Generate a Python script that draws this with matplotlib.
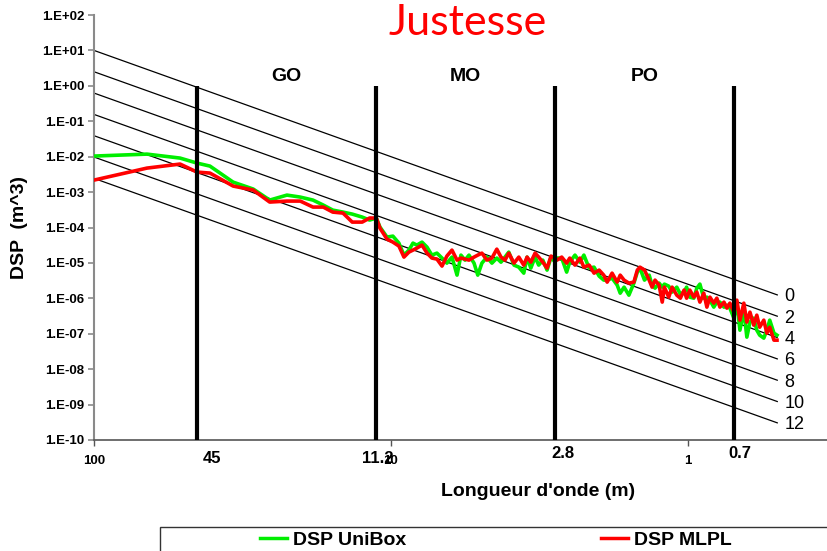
import matplotlib
matplotlib.use("Agg")
import matplotlib.pyplot as plt
from matplotlib.ticker import FixedLocator, NullLocator, FixedFormatter
from matplotlib.patches import Rectangle

plt.rcParams['font.family'] = ['Liberation Sans', 'DejaVu Sans']

# ---------------- data ----------------
# wavelength (m) and DSP (m^3)
lam_go = [100, 66.3, 51.3, 45.0, 40.7, 34.0, 29.1, 25.6, 22.4, 20.2, 18.3, 16.9,
          15.7, 14.5, 13.5, 12.5, 11.8, 11.2]
unibox_go = [1.04e-2, 1.18e-2, 9.12e-3, 6.59e-3, 5.42e-3, 1.91e-3, 1.22e-3, 5.94e-4,
             8.22e-4, 7.22e-4, 5.94e-4, 4.30e-4, 3.10e-4, 2.72e-4, 2.39e-4, 1.97e-4,
             1.62e-4, 1.85e-4]
mlpl_go = [2.18e-3, 4.76e-3, 6.18e-3, 3.67e-3, 3.44e-3, 1.48e-3, 1.14e-3, 5.22e-4,
           5.57e-4, 5.57e-4, 3.77e-4, 3.77e-4, 2.72e-4, 2.55e-4, 1.42e-4, 1.42e-4,
           1.85e-4, 1.85e-4]

lam_mo = [10.89, 10.31, 9.85, 9.40, 9.04, 8.70, 8.43, 8.18, 7.86, 7.56, 7.28, 7.00,
          6.73, 6.48, 6.23, 5.99, 5.81, 5.63, 5.46, 5.25, 5.10, 4.94, 4.75, 4.57,
          4.40, 4.26, 4.13, 4.01, 3.85, 3.71, 3.57, 3.48, 3.38, 3.27, 3.18, 3.08,
          2.98, 2.89, 2.80]
unibox_mo = [1.03e-4, 5.36e-5, 5.71e-5, 3.62e-5, 1.66e-5, 2.30e-5, 3.62e-5, 3.18e-5,
             3.87e-5, 2.79e-5, 1.66e-5, 1.89e-5, 1.37e-5, 9.86e-6, 1.46e-5, 4.52e-6,
             1.66e-5, 1.20e-5, 1.66e-5, 9.86e-6, 4.52e-6, 9.86e-6, 1.46e-5, 9.86e-6,
             1.37e-5, 1.05e-5, 1.46e-5, 2.02e-5, 8.67e-6, 7.60e-6, 5.15e-6, 1.46e-5,
             7.13e-6, 1.46e-5, 8.67e-6, 1.20e-5, 6.27e-6, 1.46e-5, 1.05e-5]
mlpl_mo = [9.62e-5, 4.70e-5, 3.87e-5, 2.99e-5, 1.46e-5, 2.02e-5, 2.30e-5, 2.62e-5,
           3.18e-5, 1.89e-5, 1.37e-5, 1.28e-5, 8.13e-6, 1.56e-5, 2.30e-5, 1.20e-5,
           1.37e-5, 1.28e-5, 1.20e-5, 1.46e-5, 1.66e-5, 1.89e-5, 1.20e-5, 1.37e-5,
           2.45e-5, 1.46e-5, 1.20e-5, 1.89e-5, 9.86e-6, 1.46e-5, 8.67e-6, 1.46e-5,
           1.05e-5, 1.89e-5, 1.46e-5, 1.05e-5, 7.13e-6, 1.56e-5, 1.37e-5]

lam_po = [2.76, 2.66, 2.56, 2.50, 2.40, 2.31, 2.24, 2.15, 2.07, 1.99,
          1.92, 1.87, 1.80, 1.73, 1.69, 1.64, 1.58, 1.52, 1.48, 1.45,
          1.40, 1.35, 1.32, 1.29, 1.25, 1.22, 1.20, 1.16, 1.13, 1.09,
          1.06, 1.03, 1.01, 0.985, 0.955, 0.933, 0.911, 0.884, 0.863, 0.843,
          0.818, 0.799, 0.780, 0.756, 0.739, 0.722, 0.700, 0.684, 0.668, 0.648,
          0.633, 0.618, 0.600, 0.586, 0.573, 0.555, 0.542, 0.530, 0.513, 0.501]
unibox_po = [1.37e-5, 1.37e-5, 5.50e-6, 1.05e-5, 1.66e-5, 1.05e-5, 1.66e-5, 7.13e-6, 7.60e-6, 4.24e-6,
             3.27e-6, 3.27e-6, 3.72e-6, 2.36e-6, 1.40e-6, 2.07e-6, 1.23e-6, 2.69e-6, 5.50e-6, 7.13e-6,
             3.27e-6, 4.52e-6, 2.36e-6, 1.94e-6, 2.69e-6, 2.07e-6, 2.52e-6, 2.21e-6, 1.50e-6, 2.07e-6,
             1.32e-6, 1.50e-6, 2.07e-6, 1.08e-6, 1.01e-6, 1.94e-6, 2.52e-6, 1.01e-6, 1.08e-6, 8.89e-7,
             5.64e-7, 7.82e-7, 7.82e-7, 5.64e-7, 6.43e-7, 5.28e-7, 2.76e-7, 7.82e-7, 1.26e-7, 4.65e-7,
             8.02e-8, 2.13e-7, 2.76e-7, 1.26e-7, 9.12e-8, 7.52e-8, 1.26e-7, 2.42e-7, 1.04e-7, 9.12e-8]
mlpl_po = [1.20e-5, 1.46e-5, 9.86e-6, 1.37e-5, 8.67e-6, 1.37e-5, 7.60e-6, 8.67e-6, 5.15e-6, 6.27e-6,
           4.52e-6, 2.87e-6, 5.15e-6, 2.87e-6, 4.52e-6, 3.27e-6, 2.69e-6, 2.87e-6, 6.27e-6, 7.60e-6,
           6.27e-6, 3.27e-6, 2.07e-6, 3.27e-6, 2.36e-6, 7.82e-7, 2.07e-6, 1.08e-6, 2.07e-6, 1.23e-6,
           1.01e-6, 1.71e-6, 1.01e-6, 1.71e-6, 1.08e-6, 1.50e-6, 7.82e-7, 1.40e-6, 5.64e-7, 1.08e-6,
           7.31e-7, 1.01e-6, 5.64e-7, 7.82e-7, 5.28e-7, 7.31e-7, 4.07e-7, 8.89e-7, 2.42e-7, 7.31e-7,
           2.13e-7, 4.07e-7, 1.75e-7, 3.35e-7, 1.53e-7, 2.42e-7, 1.04e-7, 1.53e-7, 6.59e-8, 6.59e-8]

# reference class lines (DSP at the two ends)
class_labels = ["0", "2", "4", "6", "8", "10", "12"]
class_lam = [100, 0.5]
class_start = [10.0, 2.5, 0.625, 0.156, 0.0391, 0.00977, 0.00244]
class_end = [1.25e-6, 3.13e-7, 7.81e-8, 1.95e-8, 4.88e-9, 1.22e-9, 3.05e-10]

# domain boundaries and names
boundaries = [45, 11.2, 2.8, 0.7]
boundary_labels = ["45", "11.2", "2.8", "0.7"]
zone_names = ["GO", "MO", "PO"]

x_ticks = [100, 10, 1]
x_ticklabels = ["100", "10", "1"]
y_exps = list(range(-10, 3))

# ---------------- figure ----------------
W, H = 827, 551
fig = plt.figure(figsize=(W / 100, H / 100), dpi=100)
ax = fig.add_axes([94 / W, 1 - 440 / H, 1 - 94 / W, (440 - 15) / H])
ax.set_xscale('log')
ax.set_yscale('log')
ax.set_xlim(100, 0.34)
ax.set_ylim(1e-10, 1e2)

for lab, s, e in zip(class_labels, class_start, class_end):
    ax.plot(class_lam, [s, e], color='black', lw=0.9, zorder=2)
    ax.annotate(lab, (class_lam[1], e), xytext=(5, -1.5), textcoords='offset points',
                ha='left', va='center', fontsize=13, color='black')

lam_all = lam_go + lam_mo + lam_po
ax.plot(lam_all, unibox_go + unibox_mo + unibox_po, color='#00ee00', lw=2.6,
        label='DSP UniBox', zorder=3, solid_joinstyle='round')
ax.plot(lam_all, mlpl_go + mlpl_mo + mlpl_po, color='#ff0000', lw=2.6,
        label='DSP MLPL', zorder=4, solid_joinstyle='round')

ax.vlines(boundaries, 1e-10, 1e0, color='black', lw=3, zorder=5)

# zone names at geometric centres between boundaries
for name, a, b in zip(zone_names, boundaries[:-1], boundaries[1:]):
    ax.text((a * b) ** 0.5, 1.8, name, ha='center', va='center',
            fontsize=14, fontweight='bold')

# boundary labels under the axis
label_offsets = [(10.8, -13.5), (0.7, -13), (5.8, -10), (4.3, -10)]
for b, lab, off in zip(boundaries, boundary_labels, label_offsets):
    ax.annotate(lab, (b, 0), xycoords=('data', 'axes fraction'), xytext=off,
                textcoords='offset points', ha='center', va='center',
                fontsize=12, fontweight='bold')

# axes styling
for sp in ['top', 'right']:
    ax.spines[sp].set_visible(False)
ax.spines['left'].set_color('#8a8a8a')
ax.spines['left'].set_linewidth(1.5)
ax.spines['bottom'].set_color('#555555')
ax.spines['bottom'].set_linewidth(1.2)

ax.xaxis.set_major_locator(FixedLocator(x_ticks))
ax.xaxis.set_major_formatter(FixedFormatter(x_ticklabels))
ax.xaxis.set_minor_locator(NullLocator())
ax.yaxis.set_major_locator(FixedLocator([10.0 ** e for e in y_exps]))
ax.yaxis.set_major_formatter(FixedFormatter([f"1.E{e:+03d}" for e in y_exps]))
ax.yaxis.set_minor_locator(NullLocator())
ax.tick_params(axis='x', direction='out', length=4, width=1, color='#555555',
               pad=7, labelsize=9.5)
ax.tick_params(axis='y', direction='out', length=4, width=1.2, color='#8a8a8a',
               pad=3, labelsize=9.5)
for t in ax.get_xticklabels() + ax.get_yticklabels():
    t.set_fontweight('bold')

# titles / labels
fig.text(468 / W, 1 - 35 / H, "Justesse", color='#ff0000', fontsize=31,
         family=['Lato', 'DejaVu Sans'], ha='center', va='baseline')
fig.text(538 / W, 1 - 492 / H, "Longueur d'onde (m)", fontsize=14,
         fontweight='bold', ha='center', va='center')
fig.text(20 / W, 1 - 228 / H, "DSP  (m^3)", fontsize=14, fontweight='bold',
         rotation=90, ha='center', va='center')

# legend: frame extends beyond the figure edges as in the reference
fig.patches.append(Rectangle((160 / W, -0.2), 1.0, 0.2 + 1 - 527 / H,
                             transform=fig.transFigure, fill=False,
                             edgecolor='#333333', lw=1.0))
h, l = ax.get_legend_handles_labels()
leg = fig.legend(h, l, loc='center left', bbox_to_anchor=(260 / W, 1 - 540 / H),
                 ncol=2, frameon=False, borderpad=0, borderaxespad=0,
                 handlelength=1.4, handletextpad=0.3, columnspacing=10.0,
                 prop={'size': 14, 'weight': 'bold'})
for lh in leg.get_lines():
    lh.set_linewidth(2.5)

fig.savefig("out.png", dpi=100)
